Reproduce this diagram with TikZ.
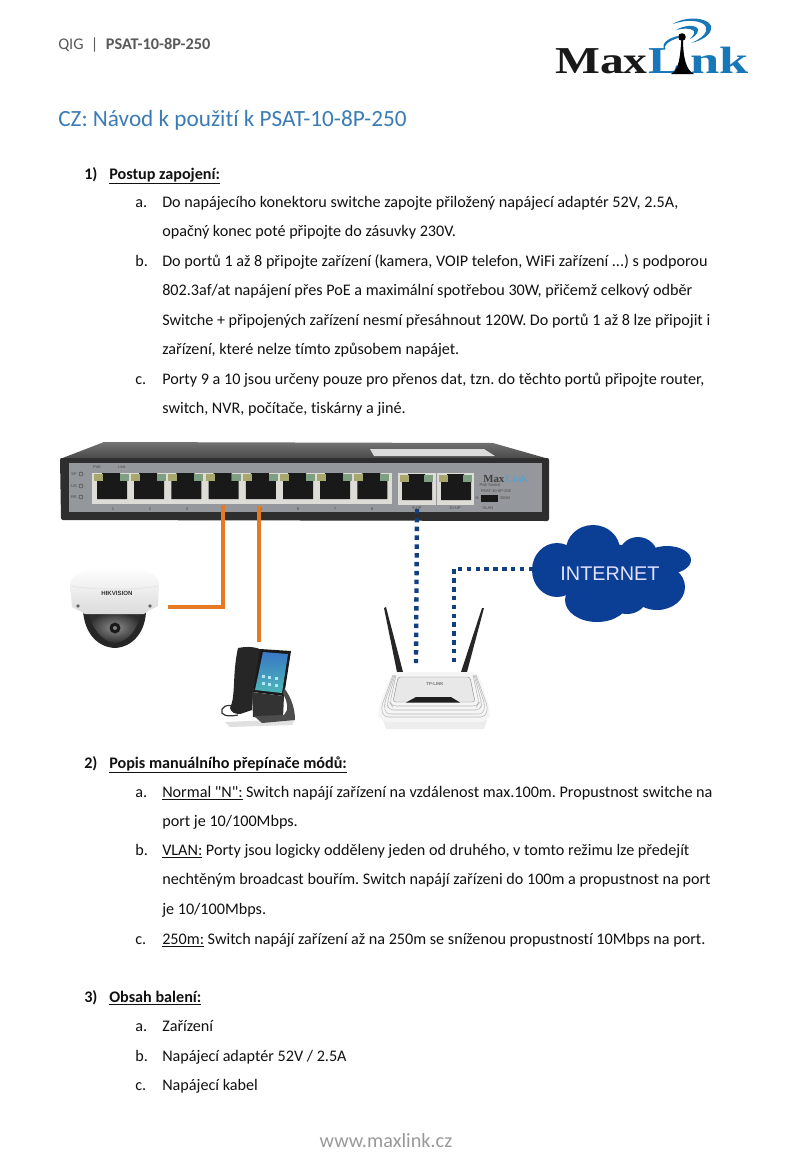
\documentclass[tikz,border=0pt]{standalone}
\usepackage{fontspec}
\newfontfamily\bodyf[Ligatures=NoCommon]{Carlito}
\newfontfamily\arialf{Liberation Sans}
\newfontfamily\logof{Liberation Serif}
\frenchspacing
\definecolor{txtc}{HTML}{111111}
\definecolor{headg}{HTML}{595959}
\definecolor{titleb}{HTML}{3B7CB6}
\definecolor{orangec}{HTML}{E57A22}
\definecolor{bluec}{HTML}{123F80}
\definecolor{cloudc}{HTML}{0B3F96}
\definecolor{logob}{HTML}{1877B8}
\definecolor{platec}{HTML}{94979B}
\definecolor{framec}{HTML}{DDDCD6}
\definecolor{ledy}{HTML}{A8A86E}
\definecolor{ledg}{HTML}{7F9F82}
\tikzset{
 x=0.7366pt,y=-0.7366pt,
 bodytxt/.style={anchor=base west,inner sep=0pt,text=txtc,font=\bodyf\frenchspacing\fontsize{11.9}{14}\selectfont},
 smalltxt/.style={inner sep=0pt,text=#1,font=\arialf\fontsize{3}{3}\selectfont},
 smalltxt/.default=black!70,
 logotxt/.style={anchor=base west,inner sep=0pt,font=\logof\bfseries\fontsize{28}{28}\selectfont},
 poecable/.style={draw=orangec,line width=3.1pt},
 datacable/.style={draw=bluec,line width=3.2pt,dash pattern=on 3.3pt off 3.2pt},
 ridge/.style={draw=black!28,line width=0.4pt,rounded corners=3pt},
}
\begin{document}
\begin{tikzpicture}
\useasboundingbox (0,0) rectangle (808,1165);
\fill[white] (0,0) rectangle (808,1165);
% header
\node[anchor=base west,inner sep=0pt,text=headg,font=\bodyf\fontsize{12}{14}\selectfont] (hdr) at (58,49) {QIG \ |\ \ \textbf{PSAT-10-8P-250}};
\node[anchor=base west,inner sep=0pt,text=titleb,font=\bodyf\fontsize{17.1}{20}\selectfont] (title) at (58,126) {CZ: Návod k použití k PSAT-10-8P-250};
% section 1
\node[bodytxt] (s1) at (84,179) {\textbf{1)}};
\node[bodytxt] (s1h) at (109,179) {\textbf{\underline{Postup zapojení:}}};
\node[bodytxt] (a1) at (135,207) {a.};
\node[bodytxt] (a1l) at (162,207) {Do napájecího konektoru switche zapojte přiložený napájecí adaptér 52V, 2.5A,};
\node[bodytxt] (a2l) at (162,236) {opačný konec poté připojte do zásuvky 230V.};
\node[bodytxt] (b1) at (135,266) {b.};
\node[bodytxt] (b1l) at (162,266) {Do portů 1 až 8 připojte zařízení (kamera, VOIP telefon, WiFi zařízení ...) s podporou};
\node[bodytxt] (b2l) at (162,295) {802.3af/at napájení přes PoE a maximální spotřebou 30W, přičemž celkový odběr};
\node[bodytxt] (b3l) at (162,325) {Switche + připojených zařízení nesmí přesáhnout 120W. Do portů 1 až 8 lze připojit i};
\node[bodytxt] (b4l) at (162,354) {zařízení, které nelze tímto způsobem napájet.};
\node[bodytxt] (c1) at (135,384) {c.};
\node[bodytxt] (c1l) at (162,384) {Porty 9 a 10 jsou určeny pouze pro přenos dat, tzn. do těchto portů připojte router,};
\node[bodytxt] (c2l) at (162,413) {switch, NVR, počítače, tiskárny a jiné.};
% section 2
\node[bodytxt] (s2) at (84,768) {\textbf{2)}};
\node[bodytxt] (s2h) at (109,768) {\textbf{\underline{Popis manuálního přepínače módů:}}};
\node[bodytxt] (d1) at (135,797) {a.};
\node[bodytxt] (d1l) at (162,797) {\underline{Normal "N":} Switch napájí zařízení na vzdálenost max.100m. Propustnost switche na};
\node[bodytxt] (d2l) at (162,826) {port je 10/100Mbps.};
\node[bodytxt] (e1) at (135,855) {b.};
\node[bodytxt] (e1l) at (162,855) {\underline{VLAN:} Porty jsou logicky odděleny jeden od druhého, v tomto režimu lze předejít};
\node[bodytxt] (e2l) at (162,884) {nechtěným broadcast bouřím. Switch napájí zařízeni do 100m a propustnost na port};
\node[bodytxt] (e3l) at (162,914) {je 10/100Mbps.};
\node[bodytxt] (f1) at (135,944) {c.};
\node[bodytxt] (f1l) at (162,944) {\underline{250m:} Switch napájí zařízení až na 250m se sníženou propustností 10Mbps na port.};
% section 3
\node[bodytxt] (s3) at (84,1002) {\textbf{3)}};
\node[bodytxt] (s3h) at (109,1002) {\textbf{\underline{Obsah balení:}}};
\node[bodytxt] (g1) at (135,1031) {a.};
\node[bodytxt] (g1l) at (162,1031) {Zařízení};
\node[bodytxt] (h1) at (135,1061) {b.};
\node[bodytxt] (h1l) at (162,1061) {Napájecí adaptér 52V / 2.5A};
\node[bodytxt] (i1) at (135,1090) {c.};
\node[bodytxt] (i1l) at (162,1090) {Napájecí kabel};
\node[inner sep=0pt,text=black!40,font=\bodyf\fontsize{14.9}{17}\selectfont] (www) at (386,1141) {www.maxlink.cz};
% logo
\node[logotxt,text=black!90,xscale=1.25] (lmax) at (555,73.5) {Max};
\node[logotxt,text=logob,xscale=1.28] (ll) at (648,73.5) {L};
\node[logotxt,text=logob,xscale=1.38] (lnk) at (690,73.5) {nk};
\fill[black] (681.5,38) -- (683,38) .. controls (683,58) and (686,70) .. (694,74) -- (671,74) .. controls (679,70) and (680,58) .. (681.5,38) -- cycle;
\fill[black] (682,37) circle (3.8);
\fill[logob] (673,24) .. controls (685,16) and (708,17) .. (711,26) .. controls (713,35) and (700,41) .. (691,43) .. controls (701,39) and (708,33) .. (706,27) .. controls (703,20) and (686,19) .. (673,24) -- cycle;
\fill[logob] (676,30) .. controls (686,24) and (698,25) .. (698,30) .. controls (698,34) and (694,37) .. (690,39) .. controls (693,36) and (695,33) .. (694,31) .. controls (691,28) and (683,28) .. (676,30) -- cycle;
\fill[logob] (678,38) .. controls (668,41) and (663,46) .. (665,50) .. controls (660,44) and (668,38) .. (678,36) -- cycle;
% switch
\shade[top color=black!55,bottom color=black!72] (104,442) -- (493,443) -- (549,459) -- (60,459) -- cycle;
\fill[black!14] (370,449) -- (484,449) -- (495,456) -- (374,456) -- cycle;
\fill[black!82,rounded corners=1.5pt] (60,458) -- (549,458) -- (549,521) -- (61,520) -- cycle;
\fill[platec] (69,463) rectangle (542,512);
\fill[framec] (92,473) rectangle (392,504);
\foreach \i in {0,...,7}{
 \pgfmathsetmacro{\px}{96+37.2*\i}
 \begin{scope}[shift={(\px,473)}]
 \fill[black!90] (6,0) -- (24,0) -- (24,8) -- (31,8) -- (31,26) -- (1,26) -- (1,8) -- (6,8) -- cycle;
 \fill[ledy] (-2,1) rectangle (7,8);
 \fill[ledg] (24,1) rectangle (33,8);
 \end{scope}
}
\fill[framec] (398,473) rectangle (436,505);
\fill[framec] (437,473) rectangle (474,505);
\foreach \px in {402,441}{
 \begin{scope}[shift={(\px,474)}]
 \fill[black!90] (6,0) -- (23,0) -- (23,8) -- (30,8) -- (30,26) -- (0,26) -- (0,8) -- (6,8) -- cycle;
 \fill[ledy] (-2,1) rectangle (7,8);
 \fill[ledg] (22,1) rectangle (31,8);
 \end{scope}
}
\foreach \i/\lab in {0/1,1/2,2/3,3/4,4/5,5/6,6/7,7/8}{
 \node[smalltxt] (pn\lab) at ({113+37*\i},509) {\lab};
}
\node[smalltxt] (p9) at (417,508) {9-UP};
\node[smalltxt] (p10) at (455,508) {10-UP};
\node[smalltxt] (vlan) at (488,508) {VLAN};
\node[smalltxt] (poe) at (97,467) {PoE};
\node[smalltxt] (link) at (122,467) {Link};
\node[smalltxt] (sn) at (477,498) {N};
\node[smalltxt] (m250) at (505,498) {250M};
\node[smalltxt] (psw) at (490,485) {PoE Switch};
\node[smalltxt] (psat) at (496,491) {PSAT-10-8P-250};
\fill[black!90] (481,495) rectangle (498,502);
\node[anchor=base west,inner sep=0pt,font=\logof\bfseries\fontsize{8}{8}\selectfont,text=black!75] (smax) at (483,482) {Max};
\node[anchor=base west,inner sep=0pt,font=\logof\bfseries\fontsize{8}{8}\selectfont,text=logob!70] (slink) at (505,482) {Link};
\foreach \yy/\lab in {474/SF,486/US,497/RE}{
 \draw[black!70,line width=0.4pt] (81,\yy) circle (2);
 \node[smalltxt] (led\lab) at (74,\yy) {\lab};
}
% camera
\fill[black!85] (83,610) -- (146,610) .. controls (146,630) and (134,647) .. (115,648) .. controls (95,647) and (84,630) .. (83,610) -- cycle;
\shade[inner color=black!45,outer color=black!82] (88,612) -- (141,612) .. controls (139,628) and (128,642) .. (115,643) .. controls (102,642) and (92,628) .. (88,612) -- cycle;
\shade[top color=white,bottom color=black!14] (70,584) .. controls (71,572) and (92,567) .. (115,567) .. controls (138,567) and (158,572) .. (159,584) -- (158,606) .. controls (150,610) and (146,612) .. (144,614) -- (85,614) .. controls (82,612) and (78,610) .. (72,607) -- cycle;
\draw[black!12,line width=0.4pt] (71,586) .. controls (90,590) and (140,590) .. (158,586);
\fill[black!60] (78,606) circle (1.8);
\fill[black!60] (150,606) circle (1.8);
\fill[black!90] (115,628) circle (5.5);
\fill[black!50] (115,628) circle (2);
\node[smalltxt=black!80,font=\arialf\bfseries\fontsize{4.5}{5}\selectfont] (hik) at (117,593) {HIKVISION};
% phone
\fill[black!12] (225,722) -- (295,719) -- (292,725) -- (230,727) -- cycle;
\draw[black!80,line width=0.9pt] (238,708) .. controls (226,702) and (220,708) .. (222,713) .. controls (225,717) and (232,716) .. (238,715);
\fill[black!85] (238,648) .. controls (248,646) and (256,647) .. (262,650) -- (253,692) -- (252,710) -- (240,714) .. controls (234,714) and (231,712) .. (230,708) .. controls (236,696) and (232,675) .. (238,648) -- cycle;
\fill[black!90] (260,649) -- (291,651) -- (284,696) -- (253,692) -- cycle;
\shade[top color=cyan!45!blue!55!gray,bottom color=cyan!60!black!70] (263,652) -- (288,654) -- (282,693) -- (255,690) -- cycle;
\foreach \xx/\yy in {262/675,268/676,275/677,262/682,268/683,275/684}{\fill[white!70!cyan] (\xx,\yy) rectangle +(3,3);}
\fill[black!80] (252,692) -- (284,696) -- (283,718) -- (253,717) -- cycle;
\fill[black!70] (284,688) .. controls (292,698) and (295,710) .. (295,720) -- (262,723) -- (254,716) -- (284,715) -- (287,710) .. controls (288,703) and (285,697) .. (283,694) -- cycle;
% cables
\coordinate (swp4) at (223,505);
\coordinate (kneeA) at (223,607);
\coordinate (camR) at (168,607);
\coordinate (swp5) at (259,506);
\coordinate (phoneT) at (259,642);
\draw[poecable] (swp4) -- (kneeA) -- (camR);
\draw[poecable] (swp5) -- (phoneT);
% cloud
\begin{scope}
\fill[cloudc] (557,570) ellipse [x radius=25,y radius=27];
\fill[cloudc] (593,550) ellipse [x radius=27,y radius=25];
\fill[cloudc] (638,557) ellipse [x radius=20,y radius=20];
\fill[cloudc] (667,560) ellipse [x radius=24,y radius=14];
\fill[cloudc] (657,587) ellipse [x radius=28,y radius=23];
\fill[cloudc] (597,600) ellipse [x radius=32,y radius=22];
\fill[cloudc] (627,597) ellipse [x radius=20,y radius=17];
\fill[cloudc] (603,573) ellipse [x radius=50,y radius=30];
\end{scope}
\node[inner sep=0pt,text=white!88!blue,font=\arialf\fontsize{14.6}{16}\selectfont] (inet) at (610,574) {INTERNET};
% router
\fill[black!7] (383,720) -- (487,720) -- (484,729) -- (386,729) -- cycle;
\fill[black!85] (384,608) -- (386,607) -- (403,672) -- (397,672) -- cycle;
\fill[black!85] (482,608) -- (484,608) -- (467,672) -- (461,672) -- cycle;
\fill[black!4,rounded corners=6pt] (392,672) -- (478,672) -- (491,712) -- (488,722) -- (381,722) -- (377,712) -- cycle;
\draw[ridge] (393,675) -- (381,708) -- (384,717) -- (485,717) -- (488,708) -- (476,675);
\draw[ridge] (394,675) -- (384,705) -- (386,714) -- (483,714) -- (485,705) -- (475,675);
\draw[ridge] (395,675) -- (387,704) -- (389,710) -- (480,710) -- (482,704) -- (474,675);
\draw[ridge] (396,675) -- (390,703) -- (392,706) -- (477,706) -- (479,703) -- (473,675);
\draw[black!45,line width=0.3pt,rounded corners=2pt,fill=black!9] (398,677) -- (470,677) -- (475,702) -- (393,702) -- cycle;
\fill[black!88] (406,702.5) -- (416,697) -- (451,697) -- (460,702.5) -- cycle;
\node[smalltxt=black!55,font=\arialf\bfseries\fontsize{3.2}{4}\selectfont] (tpl) at (435,684) {TP-LINK};
\coordinate (swp9) at (417,509);
\coordinate (rtrA) at (416,663);
\coordinate (cloudL) at (533,569);
\coordinate (kneeB) at (454,569);
\coordinate (rtrB) at (454,663);
\draw[datacable] (swp9) -- (rtrA);
\draw[datacable] (cloudL) -- (kneeB) -- (rtrB);
\end{tikzpicture}
\end{document}
